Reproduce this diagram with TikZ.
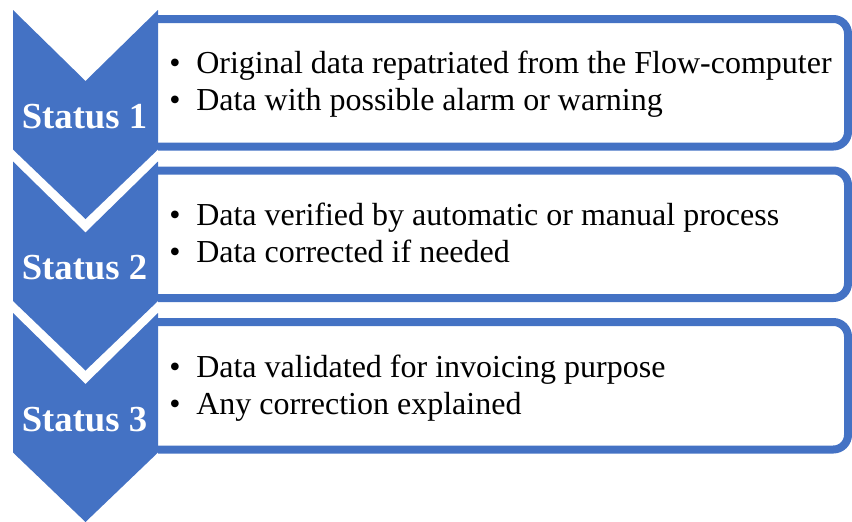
\documentclass[tikz,border=0pt]{standalone}
\usepackage{fontspec}
\setmainfont{Liberation Serif}
\definecolor{officeblue}{HTML}{4472C4}
\tikzset{
  chev/.style={fill=officeblue},
  txtbox/.style={draw=officeblue, fill=white, line width=6pt, rounded corners=11pt},
  statuslbl/.style={anchor=base, text=white, font=\fontsize{27.5pt}{33pt}\selectfont\bfseries, inner sep=0pt},
  bul/.style={anchor=base, font=\fontsize{24pt}{28pt}\selectfont, inner sep=0pt},
  item/.style={anchor=base west, font=\fontsize{24pt}{28pt}\selectfont, inner sep=0pt}
}
\begin{document}
\begin{tikzpicture}[x=0.75pt,y=-0.75pt]
\useasboundingbox (0,0) rectangle (852,521);
% text boxes
\foreach \k/\T in {1/19,2/170.5,3/322}{
  \path[txtbox] (158,\T) -- (848,\T) -- (848,\T+127.5) -- (158,\T+127.5);
}
% chevrons
\foreach \k/\T in {1/10,2/161.5,3/313}{
  \path[chev] (13,\T) -- (85.5,\T+71) -- (158,\T) -- (158,\T+139.5) -- (85.5,\T+209) -- (13,\T+139.5) -- cycle;
}
\node[statuslbl] (s1) at (84.5,128) {Status 1};
\node[statuslbl] (s2) at (84.5,279.5) {Status 2};
\node[statuslbl] (s3) at (84.5,431) {Status 3};
% items box 1
\node[bul] (b11) at (175,73) {•};
\node[item] (t11) at (196,73) {Original data repatriated from the Flow-computer};
\node[bul] (b12) at (175,110) {•};
\node[item] (t12) at (196,110) {Data with possible alarm or warning};
% items box 2
\node[bul] (b21) at (175,225) {•};
\node[item] (t21) at (196,225) {Data verified by automatic or manual process};
\node[bul] (b22) at (175,262) {•};
\node[item] (t22) at (196,262) {Data corrected if needed};
% items box 3
\node[bul] (b31) at (175,377) {•};
\node[item] (t31) at (196,377) {Data validated for invoicing purpose};
\node[bul] (b32) at (175,414) {•};
\node[item] (t32) at (196,414) {Any correction explained};
\end{tikzpicture}
\end{document}
